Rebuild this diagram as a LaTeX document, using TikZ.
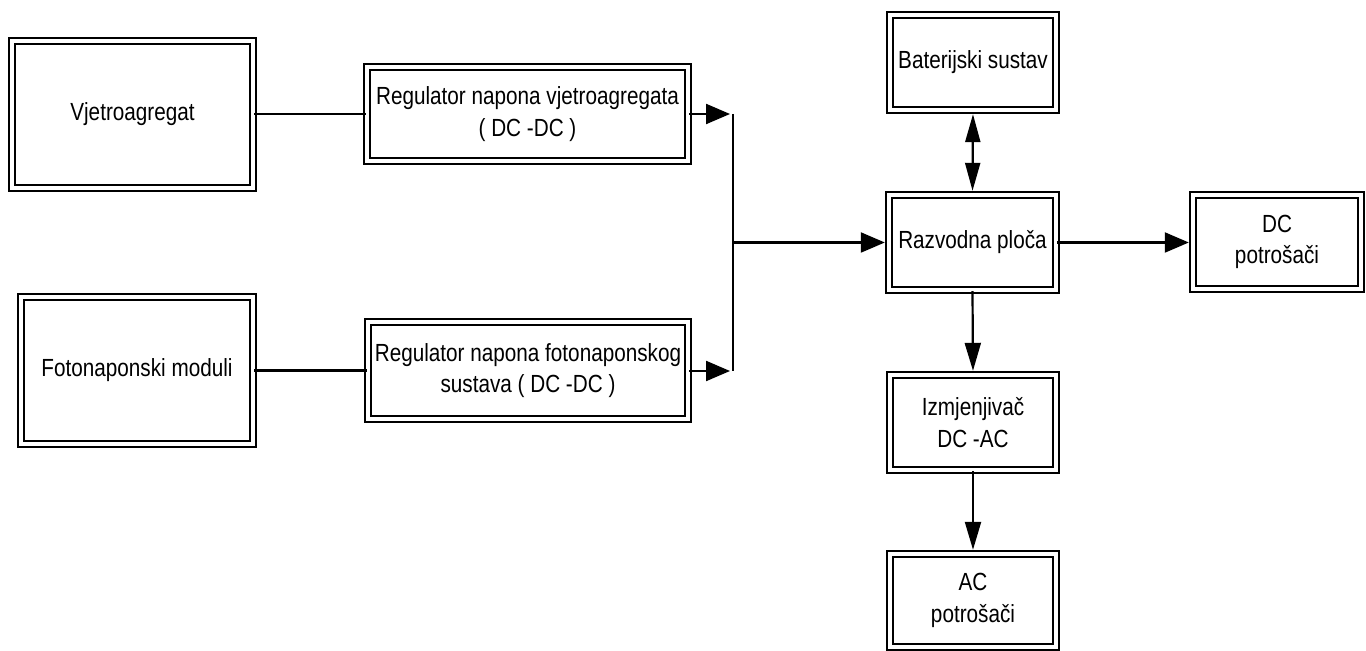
\documentclass[tikz,border=0pt]{standalone}
\usepackage{fontspec}
\setmainfont{Liberation Sans}[FakeStretch=0.835]
\usetikzlibrary{arrows.meta}
\begin{document}
\begin{tikzpicture}[x=0.5pt,y=-0.5pt,
  box/.style={draw, double, line width=1.2pt, double distance=1.6pt, align=center,
    inner sep=0pt, font=\fontsize{12.4}{15.8}\selectfont},
  conn/.style={line width=1.1pt},
  harr/.style={conn, -{Triangle[length=12pt,width=10pt]}, shorten >=1.5pt},
  varr/.style={conn, -{Triangle[length=14pt,width=8pt]}, shorten >=1.5pt},
  barr/.style={conn, {Triangle[length=14pt,width=7.5pt]}-{Triangle[length=14pt,width=7.5pt]}, shorten >=1.5pt, shorten <=1.5pt}]
\useasboundingbox (0,0) rectangle (1366,651);
\node[box, minimum width=120.5pt, minimum height=73.5pt] (vjet) at (132.5,114.5) {Vjetroagregat};
\node[box, minimum width=160.5pt, minimum height=47pt] (regv) at (527.5,114) {Regulator napona vjetroagregata\\( DC -DC )};
\node[box, minimum width=116pt, minimum height=73.5pt] (foto) at (137,370.5) {Fotonaponski moduli};
\node[box, minimum width=160pt, minimum height=48.5pt] (regf) at (528,370.5) {Regulator napona fotonaponskog\\sustava ( DC -DC )};
\node[box, minimum width=83pt, minimum height=47.5pt] (bat) at (973,62.5) {Baterijski sustav};
\node[box, minimum width=83.5pt, minimum height=47.5pt] (razv) at (972.5,242.5) {Razvodna ploča};
\node[box, minimum width=83pt, minimum height=47.5pt] (izm) at (973,422.5) {Izmjenjivač\\DC -AC};
\node[box, minimum width=83pt, minimum height=46.5pt] (ac) at (973,600.5) {AC\\potrošači};
\node[box, minimum width=84pt, minimum height=47pt] (dc) at (1277,242) {DC\\potrošači};
\coordinate (j1) at (733,114);
\coordinate (j2) at (733,371);
\coordinate (jm) at (733,242.5);
\draw[conn] (vjet.east |- regv.west) -- (regv.west);
\draw[conn] (foto.east) -- (regf.west);
\draw[harr] (regv.east) -- (j1);
\draw[harr] (regf.east |- j2) -- (j2);
\draw[conn] (j1) -- (j2);
\draw[harr] (jm) -- (razv.west);
\draw[harr] (razv.east) -- (razv.east -| dc.west);
\draw[barr] (bat.south) -- (razv.north);
\draw[varr] (razv.south) -- (izm.north);
\draw[varr] (izm.south) -- (ac.north);
\end{tikzpicture}
\end{document}
